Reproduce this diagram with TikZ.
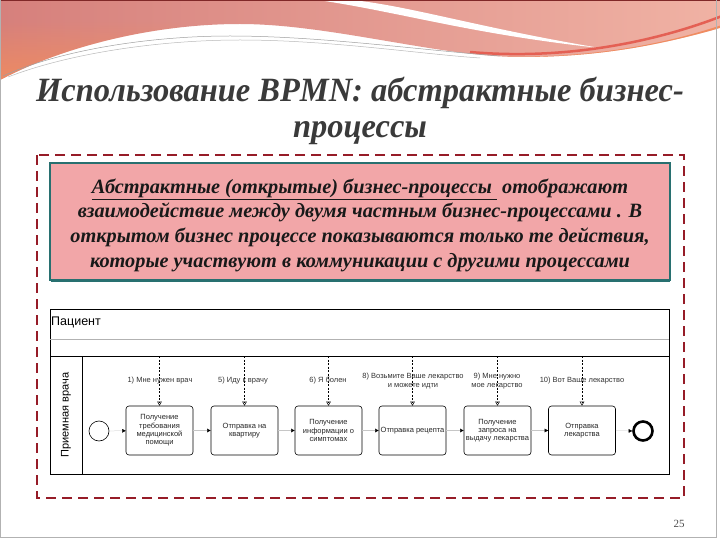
\documentclass[tikz,border=0pt]{standalone}
\usepackage{fontspec}
\usepackage{graphicx}
\setmainfont{Liberation Serif}
\setsansfont{Liberation Sans}
\usetikzlibrary{arrows.meta,fadings}
\definecolor{hdrL}{RGB}{214,128,124}
\definecolor{hdrR}{RGB}{240,178,164}
\definecolor{hdrO}{RGB}{240,140,96}
\definecolor{hdrRed}{RGB}{228,96,84}
\definecolor{hdrDark}{RGB}{128,40,40}
\definecolor{framec}{RGB}{150,28,40}
\definecolor{boxfill}{RGB}{242,166,168}
\definecolor{boxline}{RGB}{40,112,112}
\definecolor{titlec}{RGB}{58,58,58}
\tikzset{
  titletxt/.style={font=\fontsize{34}{38}\selectfont\bfseries\itshape, text=titlec, inner sep=0pt},
  infobox/.style={draw=boxline, line width=1.6pt, fill=boxfill},
  infotext/.style={align=center, font=\fontsize{20.3}{24.7}\selectfont\bfseries\itshape, text=black!90, inner sep=0pt},
  task/.style={draw, rounded corners=3pt, line width=0.6pt, minimum width=67pt, minimum height=49pt, align=center, inner sep=1pt, font=\sffamily\fontsize{7.5}{8.3}\selectfont, text=black!85},
  msglbl/.style={align=center, inner sep=0pt, font=\sffamily\fontsize{7.5}{8.3}\selectfont, text=black!80},
  mflow/.style={dash pattern=on 2pt off 1.5pt, line width=0.5pt, -{Triangle[open,length=4pt,width=4.5pt]}},
  sflow/.style={line width=0.25pt, draw=gray!45, -{Triangle[length=3.5pt,width=3.5pt,black]}},
}
\begin{document}
\begin{tikzpicture}[x=1pt,y=-1pt]
\useasboundingbox (0,0) rectangle (720,540);
\fill[white] (0,0) rectangle (720,540);
% header decoration
\begin{scope}
\clip (0,0) -- (720,0) -- (720,28) .. controls (650,48) and (590,57) .. (520,57) .. controls (440,57) and (330,24) .. (240,24) .. controls (150,24) and (60,48) .. (0,80) -- cycle;
\shade[left color=hdrL, right color=hdrR] (0,0) rectangle (720,80);
\fill[hdrO, path fading=north, opacity=0.9] (0,20) rectangle (180,80);
\fill[white] (318,0) .. controls (400,12) and (470,34) .. (600,48) .. controls (480,28) and (410,6) .. (352,0) -- cycle;
\draw[line width=2.5pt, hdrRed] (470,52) .. controls (560,60) and (650,44) .. (722,16);
\draw[line width=2pt, hdrO] (450,55) .. controls (560,64) and (650,50) .. (722,26);
\end{scope}
\draw[gray!75, line width=0.5pt] (3,76) .. controls (60,50) and (150,36) .. (230,36) .. controls (320,36) and (420,50) .. (500,56);
\draw[gray!55, line width=0.5pt] (8,77) .. controls (70,53) and (160,40) .. (240,40) .. controls (330,40) and (420,54) .. (480,58);
\draw[hdrDark, line width=1.5pt] (0,0.75) -- (720,0.75);
\draw[gray!60, line width=1pt] (0.5,0) -- (0.5,537.5) -- (716.5,537.5) -- (716.5,0);
% title
\node[titletxt] (title1) at (360,93) {\scalebox{0.955}[1]{Использование BPMN: абстрактные бизнес-}};
\node[titletxt] (title2) at (360,133) {\scalebox{0.955}[1]{процессы}};
% dashed frame
\draw[framec, line width=2.2pt, dash pattern=on 10pt off 6pt] (37,155) rectangle (684,498);
% info box
\draw[boxline, line width=2.5pt] (51,281) -- (670,281);
\node[infobox, minimum width=620pt, minimum height=117pt, inner sep=0pt] (info) at (360,221.5) {};
\node[infotext] (infotxt) at (360,225) {\underline{Абстрактные (открытые) бизнес-процессы }\ отображают\\
взаимодействие между двумя частным бизнес-процессами . В\\
открытом бизнес процессе показываются только те действия,\\
которые участвуют в коммуникации с другими процессами};
% BPMN pools
\draw[line width=0.8pt] (50,309) rectangle (669,474);
\draw[gray!60, line width=0.6pt] (50,339) -- (669,339);
\draw[line width=0.8pt] (50,356) -- (669,356);
\draw[line width=0.8pt] (82,356) -- (82,474);
\coordinate (lanetop) at (82,356);
\node[anchor=west, inner sep=0pt, font=\sffamily\fontsize{12.5}{14}\selectfont] (pool) at (51,322) {Пациент};
\node[rotate=90, inner sep=0pt, font=\sffamily\fontsize{11}{13}\selectfont] (lane) at (66,415) {Приемная врача};
% events and tasks
\node[draw, circle, line width=0.6pt, minimum size=20pt, inner sep=0pt] (start) at (99,431) {};
\node[task] (t1) at (159.5,430.5) {Получение\\требования\\медицинской\\помощи};
\node[task] (t2) at (244.5,430.5) {Отправка на\\квартиру};
\node[task] (t3) at (328.5,430.5) {Получение\\информации о\\симптомах};
\node[task] (t4) at (412.5,430.5) {Отправка рецепта};
\node[task] (t5) at (497.5,430.5) {Получение\\запроса на\\выдачу лекарства};
\node[task] (t6) at (582,430.5) {Отправка\\лекарства};
\node[draw, circle, line width=2.6pt, minimum size=19pt, inner sep=0pt] (end) at (643,431) {};
% sequence flows
\draw[sflow] (start) -- (t1);
\draw[sflow] (t1) -- (t2);
\draw[sflow] (t2) -- (t3);
\draw[sflow] (t3) -- (t4);
\draw[sflow] (t4) -- (t5);
\draw[sflow] (t5) -- (t6);
\draw[sflow] (t6) -- (end);
% message flows
\foreach \t in {t1,t2,t3,t4,t5,t6}{
  \draw[mflow] (\t.north |- lanetop) -- (\t.north);
}
% message labels
\node[msglbl] (l1) at (160,381) {1) Мне нужен врач};
\node[msglbl] (l2) at (243,381) {5) Иду к врачу};
\node[msglbl] (l3) at (328,381) {6) Я болен};
\node[msglbl] (l4) at (413,381) {8) Возьмите Ваше лекарство\\и можете идти};
\node[msglbl] (l5) at (497,381) {9) Мне нужно\\мое лекарство};
\node[msglbl] (l6) at (582,381) {10) Вот Ваше лекарство};
% page number
\node[font=\fontsize{11}{12}\selectfont, text=black!70, inner sep=0pt] (pg) at (679,524) {25};
\end{tikzpicture}
\end{document}
